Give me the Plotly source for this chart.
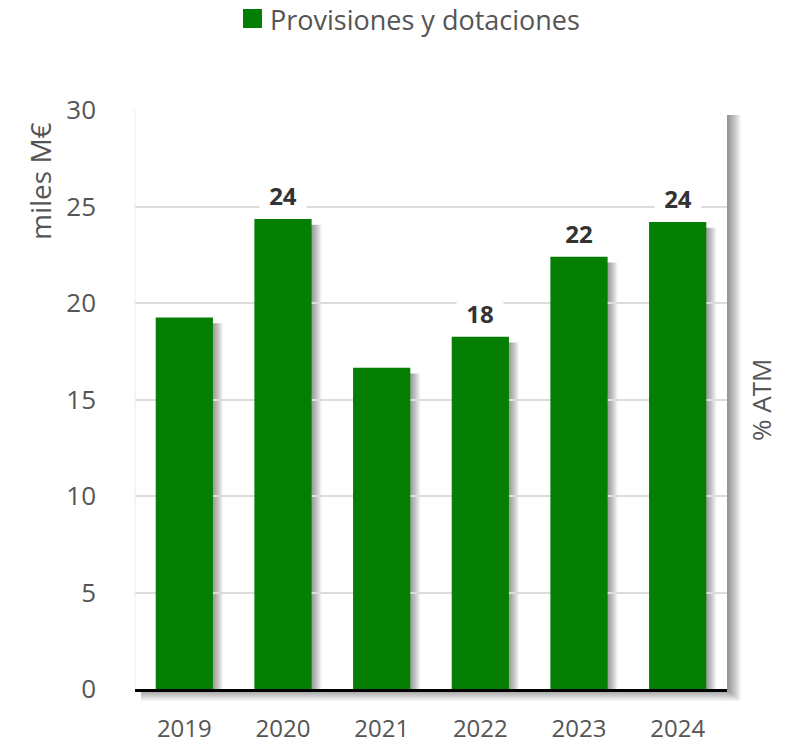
import plotly.graph_objects as go

years = ["2019", "2020", "2021", "2022", "2023", "2024"]
values = [19.25, 24.35, 16.65, 18.25, 22.4, 24.2]
labels = ["", "24", "", "18", "22", "24"]
series_name = "Provisiones y dotaciones"
y_ticks = [0, 5, 10, 15, 20, 25, 30]

GREEN = "#047f04"
FONT = "Open Sans, Roboto, sans-serif"
GREY = "#555555"
PW, PH = 592, 579  # plot area size in px
OFF = 8  # page body margin

fig = go.Figure()
fig.add_trace(go.Bar(
    x=years, y=values, name=series_name, marker=dict(color=GREEN, line=dict(width=0)),
    width=0.58, showlegend=False, hoverinfo="x+y",
))

shapes = []
# plot-area drop shadow (strips outside the plot area)
for i in range(1, 10):
    shapes.append(dict(
        type="rect", xref="paper", yref="paper", layer="below",
        xsizemode="pixel", ysizemode="pixel", xanchor=0, yanchor=0,
        x0=PW, x1=PW + i * 1.5, y0=-i * 1.3, y1=PH - 5,
        fillcolor="rgba(0,0,0,0.055)", line=dict(width=0),
    ))
    shapes.append(dict(
        type="rect", xref="paper", yref="paper", layer="below",
        xsizemode="pixel", ysizemode="pixel", xanchor=0, yanchor=0,
        x0=6, x1=PW, y0=-i * 1.3, y1=0,
        fillcolor="rgba(0,0,0,0.05)", line=dict(width=0),
    ))
# bar shadows
for idx, v in enumerate(values):
    for i in range(1, 9):
        shapes.append(dict(
            type="rect", xref="x", yref="y", layer="below",
            xsizemode="pixel", xanchor=idx,
            x0=28, x1=28 + i * 1.3, y0=0, y1=v - 0.3,
            fillcolor="rgba(0,0,0,0.06)", line=dict(width=0),
        ))
# faint left edge
shapes.append(dict(type="line", xref="paper", yref="paper", x0=0, x1=0, y0=0, y1=1,
                   line=dict(color="#eeeeee", width=1)))
# legend swatch
shapes.append(dict(type="rect", xref="paper", yref="paper",
                   xsizemode="pixel", ysizemode="pixel", xanchor=0, yanchor=1,
                   x0=243 - 135, x1=262 - 135, y0=110 - 9, y1=110 - 28,
                   fillcolor=GREEN, line=dict(width=0)))

annotations = []
for idx, (v, t) in enumerate(zip(values, labels)):
    if t:
        annotations.append(dict(
            x=idx, y=v, xref="x", yref="y", text=t, showarrow=False,
            yanchor="bottom", yshift=8, bgcolor="white", borderpad=0,
            width=46, height=30,
            font=dict(family=FONT, size=24, color="#333333", weight="bold"),
        ))
annotations.append(dict(
    x=(268 - 135) / PW, y=1 + (110 - 20) / PH, xref="paper", yref="paper",
    xanchor="left", yanchor="middle", showarrow=False, text=series_name,
    font=dict(family=FONT, size=27, color=GREY),
))
annotations.append(dict(
    x=-(135 - 40) / PW, y=1 - (181 - 110) / PH, xref="paper", yref="paper",
    xanchor="center", yanchor="middle", showarrow=False, text="miles M€", textangle=-90,
    font=dict(family=FONT, size=28, color=GREY),
))
annotations.append(dict(
    x=1 + (761 - 727) / PW, y=1 - (400 - 110) / PH, xref="paper", yref="paper",
    xanchor="center", yanchor="middle", showarrow=False, text="% ATM", textangle=-90,
    font=dict(family=FONT, size=26, color=GREY),
))

fig.update_layout(
    width=785, height=746,
    margin=dict(l=135 - OFF, r=785 - (727 - OFF), t=110 - OFF, b=746 - (689 - OFF)),
    paper_bgcolor="white", plot_bgcolor="white",
    bargap=0.42,
    showlegend=False,
    shapes=shapes, annotations=annotations,
    font=dict(family=FONT, color=GREY),
)
fig.update_yaxes(
    range=[0, 30], tickvals=y_ticks, showgrid=True, gridcolor="#dcdcdc", gridwidth=2,
    zeroline=False, showline=False, ticklabelstandoff=38, automargin=False,
    tickfont=dict(family=FONT, size=26, color=GREY), fixedrange=True,
)
fig.update_xaxes(
    type="category", range=[-0.5, len(years) - 0.5], automargin=False,
    showline=True, linecolor="black", linewidth=2.5, showgrid=False,
    ticklabelstandoff=16, tickfont=dict(family=FONT, size=24, color=GREY), fixedrange=True,
)

fig.write_html("out.html")
